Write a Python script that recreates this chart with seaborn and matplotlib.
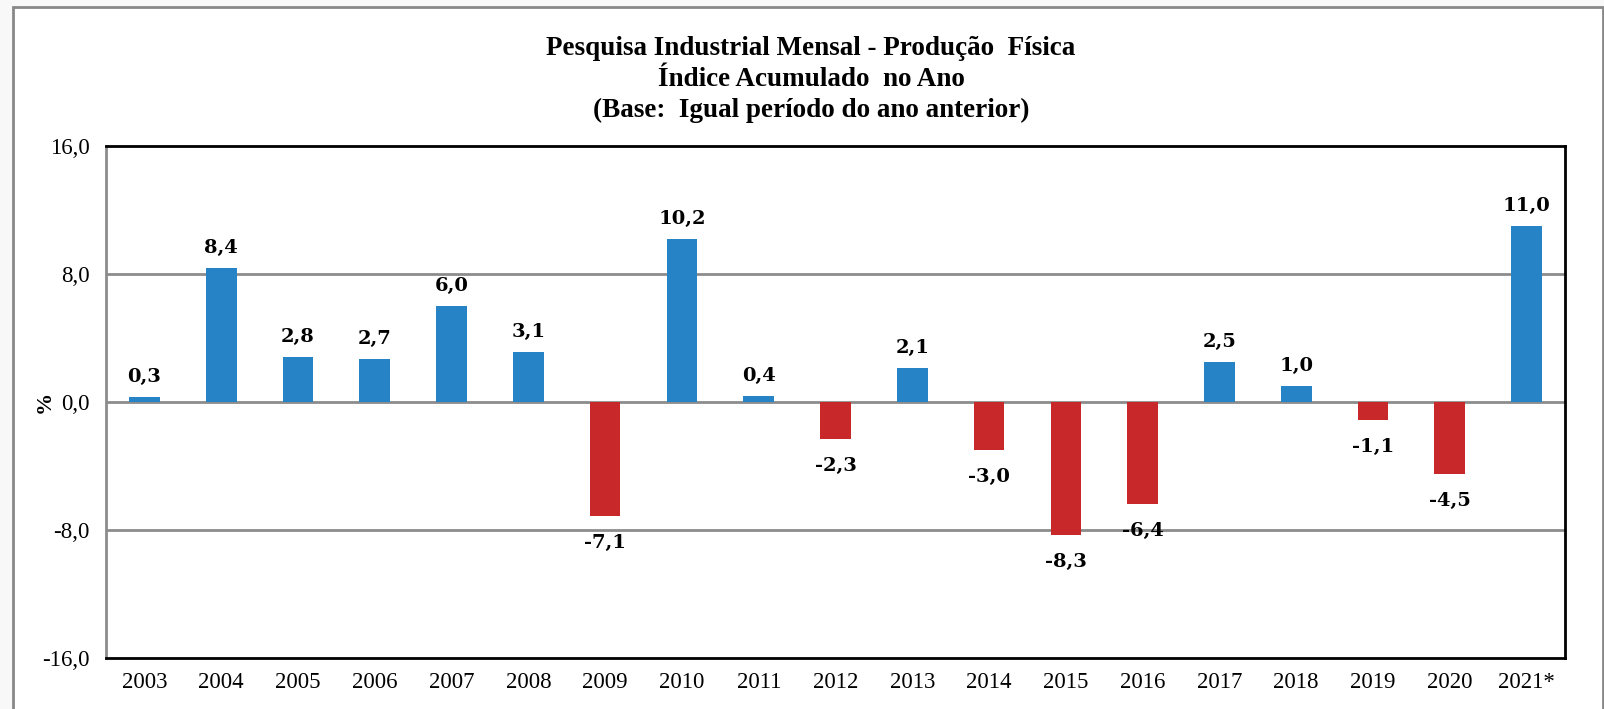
import pandas as pd
import seaborn as sns
import matplotlib.pyplot as plt
from matplotlib.patches import Rectangle

# Dados
anos = ['2003', '2004', '2005', '2006', '2007', '2008', '2009', '2010', '2011', '2012',
        '2013', '2014', '2015', '2016', '2017', '2018', '2019', '2020', '2021*']
valores = [0.3, 8.4, 2.8, 2.7, 6.0, 3.1, -7.1, 10.2, 0.4, -2.3,
           2.1, -3.0, -8.3, -6.4, 2.5, 1.0, -1.1, -4.5, 11.0]

df = pd.DataFrame({'Ano': anos, 'Valor': valores})
df['Sinal'] = ['pos' if v >= 0 else 'neg' for v in valores]

sns.set_style('white')
plt.rcParams['font.family'] = ['Liberation Serif', 'DejaVu Serif']
plt.rcParams['text.color'] = 'black'
plt.rcParams['xtick.color'] = 'black'
plt.rcParams['ytick.color'] = 'black'
plt.rcParams['axes.labelcolor'] = 'black'

fig = plt.figure(figsize=(16.04, 7.09), dpi=100, facecolor='#f8f8f8')
# moldura externa
fig.patches.append(Rectangle((13 / 1604, -0.05), 1590 / 1604, 1 - 7 / 709 + 0.05,
                             transform=fig.transFigure, facecolor='white',
                             edgecolor='#888888', linewidth=2, zorder=-10))

ax = fig.add_axes([106 / 1604, 1 - 658 / 709, (1565 - 106) / 1604, (658 - 146) / 709])
ax.set_facecolor('white')

sns.barplot(data=df, x='Ano', y='Valor', hue='Sinal',
            palette={'pos': '#2683c6', 'neg': '#c8282a'}, saturation=1,
            dodge=False, width=0.4, legend=False, ax=ax, zorder=3,
            linewidth=0, edgecolor='none')

ax.set_ylim(-16, 16)
ax.set_yticks([-16, -8, 0, 8, 16])
ax.set_yticklabels(['-16,0', '-8,0', '0,0', '8,0', '16,0'])
ax.set_xlim(-0.5, len(anos) - 0.5)
for y in [-8, 0, 8]:
    ax.axhline(y, color='#8c8c8c', lw=2, zorder=2)

# rótulos de dados
for i, v in enumerate(valores):
    txt = f'{v:.1f}'.replace('.', ',')
    if v >= 0:
        ax.annotate(txt, (i, v), xytext=(0, 8), textcoords='offset points',
                    ha='center', va='bottom', fontsize=14, fontweight='bold',
                    family='DejaVu Serif')
    else:
        ax.annotate(txt, (i, v), xytext=(0, -13), textcoords='offset points',
                    ha='center', va='top', fontsize=14, fontweight='bold',
                    family='DejaVu Serif')

ax.tick_params(axis='both', labelsize=16.5, length=0)
ax.tick_params(axis='x', pad=10)
ax.tick_params(axis='y', pad=12)
ax.set_xlabel('')
ax.set_ylabel('%', fontsize=16, fontweight='bold')
ax.yaxis.set_label_coords(-0.035, 0.5)

for s in ['top', 'right', 'bottom']:
    ax.spines[s].set_color('black')
    ax.spines[s].set_linewidth(2)
ax.spines['left'].set_color('#8c8c8c')
ax.spines['left'].set_linewidth(2)

fig.text(811 / 1604, 1 - 36 / 709,
         'Pesquisa Industrial Mensal - Produção  Física\nÍndice Acumulado  no Ano\n(Base:  Igual período do ano anterior)',
         ha='center', va='top', fontsize=19.5, fontweight='bold', linespacing=1.3)

plt.savefig('out.png', dpi=100, facecolor=fig.get_facecolor())
